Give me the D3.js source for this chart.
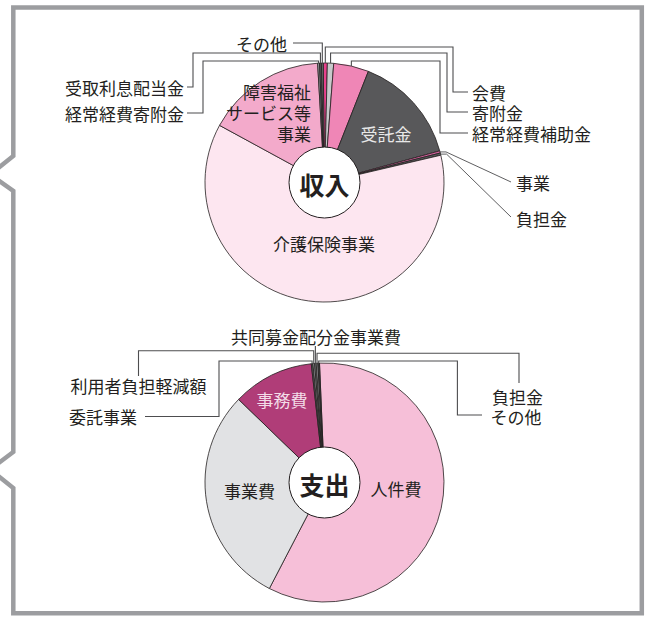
<!DOCTYPE html>
<html>
<head>
<meta charset="utf-8">
<script src="https://cdn.jsdelivr.net/npm/d3@7"></script>
<style>
  html, body { margin: 0; padding: 0; background: #fff; }
  svg { display: block; font-family: "Noto Sans CJK JP", "Noto Sans", sans-serif; }
</style>
</head>
<body>
<div id="chart"></div>
<script>
// 収入 (clockwise from 12 o'clock)
const incomeNames = ["会費", "寄附金", "経常経費補助金", "受託金", "事業", "負担金",
  "介護保険事業", "障害福祉サービス等事業", "経常経費寄附金", "受取利息配当金", "その他"];
const incomeValues = [0.55, 0.85, 4.75, 14.75, 0.3, 0.3, 61.6, 16.15, 0.25, 0.25, 0.25];
const incomeColors = ["#e8418c", "#c8c9cb", "#ef86b6", "#58585a", "#d0609a", "#58585a",
  "#fde6f0", "#f3aacb", "#9fa0a3", "#58585a", "#6d6e70"];

// 支出
const expenseNames = ["人件費", "事業費", "事務費", "委託事業", "利用者負担軽減額",
  "共同募金配分金事業費", "負担金", "その他"];
const expenseValues = [58.3, 29.6, 11.0, 0.22, 0.22, 0.22, 0.22, 0.22];
const expenseColors = ["#f6bfd8", "#e1e2e4", "#b03d78", "#58585a", "#a6a8ab",
  "#6d6e70", "#a6a8ab", "#3c3c3e"];

const W = 649, H = 617;
const R = 119.5, HOLE = 35.5;
const deg = Math.PI / 180;

const svg = d3.select("#chart").append("svg")
  .attr("width", W).attr("height", H);

// speech-bubble frame
svg.append("path")
  .attr("d", "M13.3,156 L13.3,7.5 L641.8,7.5 L641.8,613.3 L13.3,613.3 L13.3,488 L-10,469.5 L13.3,452 L13.3,191 L-10,174.5 Z")
  .attr("fill", "none")
  .attr("stroke", "#9c9da0")
  .attr("stroke-width", 4.5);

function drawPie(cx, cy, names, values, colors, start, title) {
  const g = svg.append("g").attr("transform", `translate(${cx},${cy})`);
  const pie = d3.pie().sort(null)
    .startAngle(start * deg).endAngle((start + 360) * deg);
  const arcs = pie(values);
  const arc = d3.arc().innerRadius(0).outerRadius(R);
  g.selectAll("path.slice").data(arcs).enter().append("path")
    .attr("class", "slice")
    .attr("d", arc)
    .attr("fill", (d, i) => colors[i])
    .attr("stroke", "#231f20")
    .attr("stroke-width", 0.8)
    .attr("stroke-linejoin", "round");
  g.append("circle").attr("r", HOLE)
    .attr("fill", "#fff").attr("stroke", "#231f20").attr("stroke-width", 1);
  g.append("text").text(title)
    .attr("text-anchor", "middle").attr("dominant-baseline", "central")
    .attr("y", 1)
    .attr("font-size", 25).attr("font-weight", "bold").attr("fill", "#231f20");
  // anchor point of each slice on the rim
  const anchor = {};
  arcs.forEach((d, i) => {
    const a = (d.startAngle + d.endAngle) / 2;
    anchor[names[i]] = [cx + R * Math.sin(a), cy - R * Math.cos(a)];
  });
  return anchor;
}

const incAnchor = drawPie(324.5, 182.5, incomeNames, incomeValues, incomeColors, -0.6, "収入");
const expAnchor = drawPie(324.5, 482.5, expenseNames, expenseValues, expenseColors, -2.4, "支出");

// leader lines: anchor -> up to level -> across to bendX -> down to endY -> to endX
const incomeLeaders = [
  { name: "その他", level: 43, endX: 293, tx: 287, ty: 43, anchor: "end" },
  { name: "受取利息配当金", level: 53, bendX: 193, endY: 87, endX: 187, tx: 184, ty: 87, anchor: "end" },
  { name: "経常経費寄附金", level: 61, bendX: 203, endY: 113, endX: 187, tx: 184, ty: 113, anchor: "end" },
  { name: "会費", level: 47, bendX: 453, endY: 92, endX: 468, tx: 472, ty: 92, anchor: "start" },
  { name: "寄附金", level: 53, bendX: 447, endY: 112, endX: 468, tx: 472, ty: 112, anchor: "start" },
  { name: "経常経費補助金", level: 61, bendX: 440, endY: 133, endX: 468, tx: 472, ty: 133, anchor: "start" },
  { name: "事業", diag: [511, 182], tx: 516, ty: 182, anchor: "start" },
  { name: "負担金", diag: [511, 217], tx: 516, ty: 218, anchor: "start" },
];
const expenseLeaders = [
  { name: "委託事業", level: 361, bendX: 219, endY: 416.5, endX: 145, tx: 137, ty: 416.5, anchor: "end" },
  { name: "利用者負担軽減額", level: 350.7, bendX: 138.5, endY: 376, tx: 138.5, ty: 385, anchor: "middle" },
  { name: "共同募金配分金事業費", level: 346, tx: 316, ty: 336.5, anchor: "middle" },
  { name: "負担金", level: 353.3, bendX: 519, endY: 383, tx: 517.6, ty: 396.5, anchor: "middle" },
  { name: "その他", level: 361, bendX: 457.4, endY: 415, endX: 482, tx: 490.5, ty: 416.5, anchor: "start" },
];

const line = d3.line();
function drawLeaders(leaders, anchors) {
  leaders.forEach((L) => {
    const [ax, ay] = anchors[L.name];
    let pts;
    if (L.diag) {
      pts = [[ax, ay], [ax + 6, ay], L.diag];
    } else {
      pts = [[ax, ay], [ax, L.level]];
      if (L.bendX != null) {
        pts.push([L.bendX, L.level]);
        if (L.endY != null) pts.push([L.bendX, L.endY]);
        if (L.endX != null) pts.push([L.endX, L.endY]);
      } else if (L.endX != null) {
        pts.push([L.endX, L.level]);
      }
    }
    svg.append("path")
      .attr("d", line(pts))
      .attr("fill", "none")
      .attr("stroke", "#4d4d4f")
      .attr("stroke-width", L.diag ? 0.9 : 1.1);
    svg.append("text").text(L.name)
      .attr("x", L.tx).attr("y", L.ty)
      .attr("text-anchor", L.anchor)
      .attr("dominant-baseline", "central")
      .attr("font-size", 17).attr("fill", "#231f20");
  });
}
drawLeaders(incomeLeaders, incAnchor);
drawLeaders(expenseLeaders, expAnchor);

// labels inside slices
const insideLabels = [
  { lines: ["受託金"], x: 386, y: 133.5, anchor: "middle", color: "#e8e8e8" },
  { lines: ["障害福祉", "サービス等", "事業"], x: 311, y: 91.5, anchor: "end", color: "#231f20" },
  { lines: ["介護保険事業"], x: 324, y: 243, anchor: "middle", color: "#231f20" },
  { lines: ["事務費"], x: 282, y: 399, anchor: "middle", color: "#f3dce8" },
  { lines: ["事業費"], x: 249.5, y: 490, anchor: "middle", color: "#231f20" },
  { lines: ["人件費"], x: 396, y: 488.5, anchor: "middle", color: "#231f20" },
];
insideLabels.forEach((l) => {
  l.lines.forEach((t, k) => {
    svg.append("text").text(t)
      .attr("x", l.x).attr("y", l.y + k * 21)
      .attr("text-anchor", l.anchor)
      .attr("dominant-baseline", "central")
      .attr("font-size", 17).attr("fill", l.color);
  });
});
</script>
</body>
</html>
